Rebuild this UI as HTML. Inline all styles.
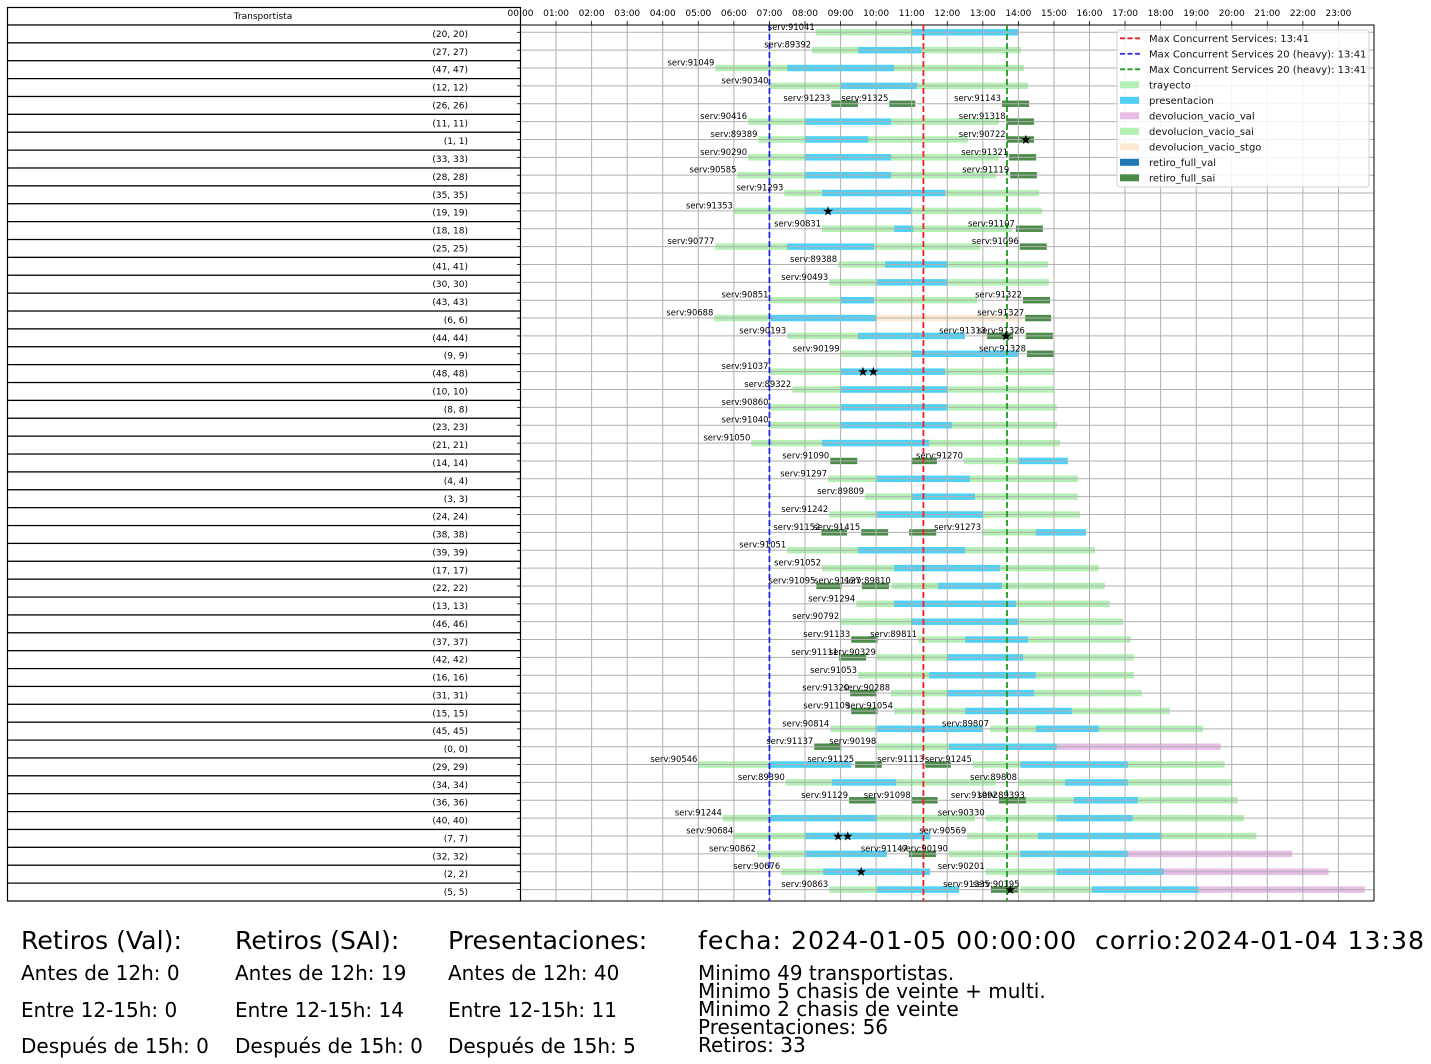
<!DOCTYPE html>
<html><head><meta charset="utf-8"><style>
html,body{margin:0;padding:0;background:#fff;width:1431px;height:1064px;overflow:hidden}
svg{display:block;font-family:"DejaVu Sans","Liberation Sans",sans-serif}
</style></head><body>
<svg id="chart" width="1431" height="1064" viewBox="0 0 1431 1064" xmlns="http://www.w3.org/2000/svg">
<g id="table"></g>
<g id="bars"></g>
<g id="grid"></g>
<g id="marks"></g>
<g id="legend"></g>
<g font-family="DejaVu Sans, Liberation Sans, sans-serif" fill="#000">
<text x="21" y="949" font-size="25.2">Retiros (Val):</text>
<text x="21" y="980" font-size="20">Antes de 12h: 0</text>
<text x="21" y="1017" font-size="20">Entre 12-15h: 0</text>
<text x="21" y="1053" font-size="20">Después de 15h: 0</text>
<text x="235" y="949" font-size="25.2">Retiros (SAI):</text>
<text x="235" y="980" font-size="20">Antes de 12h: 19</text>
<text x="235" y="1017" font-size="20">Entre 12-15h: 14</text>
<text x="235" y="1053" font-size="20">Después de 15h: 0</text>
<text x="448" y="949" font-size="25.2">Presentaciones:</text>
<text x="448" y="980" font-size="20">Antes de 12h: 40</text>
<text x="448" y="1017" font-size="20">Entre 12-15h: 11</text>
<text x="448" y="1053" font-size="20">Después de 15h: 5</text>
<text x="698" y="949" font-size="25.2" textLength="726" lengthAdjust="spacing" xml:space="preserve">fecha: 2024-01-05 00:00:00  corrio:2024-01-04 13:38</text>
<text x="698" y="980" font-size="20">Minimo 49 transportistas.</text>
<text x="698" y="998" font-size="20">Minimo 5 chasis de veinte + multi.</text>
<text x="698" y="1016" font-size="20">Minimo 2 chasis de veinte</text>
<text x="698" y="1034" font-size="20">Presentaciones: 56</text>
<text x="698" y="1052" font-size="20">Retiros: 33</text>
</g>
</svg>
<script>
const rowLabels=["(20, 20)","(27, 27)","(47, 47)","(12, 12)","(26, 26)","(11, 11)","(1, 1)","(33, 33)","(28, 28)","(35, 35)","(19, 19)","(18, 18)","(25, 25)","(41, 41)","(30, 30)","(43, 43)","(6, 6)","(44, 44)","(9, 9)","(48, 48)","(10, 10)","(8, 8)","(23, 23)","(21, 21)","(14, 14)","(4, 4)","(3, 3)","(24, 24)","(38, 38)","(39, 39)","(17, 17)","(22, 22)","(13, 13)","(46, 46)","(37, 37)","(42, 42)","(16, 16)","(31, 31)","(15, 15)","(45, 45)","(0, 0)","(29, 29)","(34, 34)","(36, 36)","(40, 40)","(7, 7)","(32, 32)","(2, 2)","(5, 5)"];
const hourTicks=["00:00","01:00","02:00","03:00","04:00","05:00","06:00","07:00","08:00","09:00","10:00","11:00","12:00","13:00","14:00","15:00","16:00","17:00","18:00","19:00","20:00","21:00","22:00","23:00"];
// [row, startHour, endHour]
const trayecto=[[0,8.3,14.0],[1,8.2,14.07],[2,5.48,14.16],[3,7.0,14.27],[5,6.4,13.45],[6,6.69,12.58],[7,6.4,13.45],[8,6.1,13.37],[9,7.42,14.58],[10,6.0,14.66],[11,8.48,13.82],[12,5.48,12.92],[13,8.93,14.83],[14,8.68,14.86],[15,7.0,12.84],[16,5.45,7.0],[17,7.5,12.5],[18,9.0,11.0],[19,7.0,15.0],[20,7.64,15.0],[21,7.0,15.08],[22,7.0,15.08],[23,6.49,15.17],[24,12.47,15.39],[25,8.65,15.67],[26,9.69,15.67],[27,8.68,15.73],[28,12.98,15.9],[29,7.5,16.15],[30,8.48,16.26],[31,10.44,16.43],[32,9.44,16.57],[33,8.99,16.94],[34,11.18,17.16],[35,10.02,17.25],[36,9.49,17.25],[37,10.42,17.47],[38,10.5,18.26],[39,8.71,13.0],[39,13.2,19.19],[40,10.03,15.08],[41,5.0,9.3],[41,12.72,19.8],[42,7.46,13.37],[42,13.99,20.0],[43,14.21,20.17],[44,5.69,12.78],[44,13.08,20.34],[45,6.01,11.52],[45,12.56,20.69],[46,6.65,10.3],[46,12.05,17.08],[47,7.33,11.52],[47,13.08,18.09],[48,8.68,12.33],[48,14.06,19.07]];
const presentacion=[[0,11.0,14.0],[1,9.5,11.27],[2,7.5,10.5],[3,9.0,11.15],[5,8.0,10.42],[6,8.0,9.78],[7,8.0,10.42],[8,8.0,10.42],[9,8.48,11.94],[10,8.0,10.98],[11,10.51,11.04],[12,7.5,9.94],[13,10.25,12.0],[14,10.03,12.0],[15,9.0,9.94],[16,7.0,10.0],[17,9.49,12.5],[18,11.0,14.0],[19,9.0,11.94],[20,9.0,12.0],[21,9.0,12.0],[22,9.0,12.13],[23,8.48,11.49],[24,14.02,15.39],[25,10.03,12.64],[26,11.0,12.78],[27,10.03,13.0],[28,14.49,15.9],[29,9.49,12.5],[30,10.51,13.48],[31,11.74,13.54],[32,10.5,13.93],[33,10.98,13.99],[34,12.5,14.27],[35,12.0,14.13],[36,11.49,14.49],[37,12.0,14.44],[38,12.5,15.5],[39,10.02,13.0],[39,14.49,16.26],[40,12.05,15.08],[41,7.01,9.3],[41,14.06,17.08],[42,8.76,10.56],[42,15.31,17.08],[43,15.56,17.36],[44,7.01,10.03],[44,15.08,17.21],[45,8.02,11.52],[45,14.55,18.03],[46,8.02,10.3],[46,14.06,17.08],[47,8.51,11.52],[47,15.08,18.09],[48,10.03,12.33],[48,16.07,19.07]];
const retiroFullSai=[[4,8.74,9.49],[4,10.37,11.1],[4,13.54,14.3],[5,13.67,14.44],[6,13.67,14.44],[7,13.74,14.5],[8,13.77,14.52],[11,13.93,14.69],[12,14.04,14.8],[15,14.13,14.89],[16,14.19,14.92],[17,13.12,13.85],[17,14.21,14.97],[18,14.24,15.0],[24,8.71,9.47],[24,11.0,11.71],[28,8.46,9.18],[28,9.58,10.34],[28,10.93,11.69],[31,8.32,9.03],[31,9.6,10.36],[34,9.3,10.04],[35,8.96,9.72],[37,9.27,10.02],[38,9.3,10.04],[40,8.26,9.02],[41,9.41,10.16],[41,11.38,12.1],[43,9.24,10.0],[43,11.0,11.73],[43,13.45,14.21],[46,10.92,11.68],[48,13.23,13.99]];
const devolucionVacioVal=[[40,15.08,19.69],[46,17.08,21.7],[47,18.09,22.72],[48,19.07,23.74]];
const devolucionVacioStgo=[[16,10.0,14.07]];
// [row, text, hour]
const servLabels=[[0,"serv:91041",8.3],[1,"serv:89392",8.2],[2,"serv:91049",5.48],[3,"serv:90340",7.0],[4,"serv:91233",8.74],[4,"serv:91325",10.37],[4,"serv:91143",13.54],[5,"serv:90416",6.4],[5,"serv:91318",13.67],[6,"serv:89389",6.69],[6,"serv:90722",13.67],[7,"serv:90290",6.4],[7,"serv:91321",13.74],[8,"serv:90585",6.1],[8,"serv:91119",13.77],[9,"serv:91293",7.42],[10,"serv:91353",6.0],[11,"serv:90831",8.48],[11,"serv:91107",13.93],[12,"serv:90777",5.48],[12,"serv:91096",14.04],[13,"serv:89388",8.93],[14,"serv:90493",8.68],[15,"serv:90851",7.0],[15,"serv:91322",14.13],[16,"serv:90688",5.45],[16,"serv:91327",14.19],[17,"serv:90193",7.5],[17,"serv:91313",13.12],[17,"serv:91326",14.21],[18,"serv:90199",9.0],[18,"serv:91328",14.24],[19,"serv:91037",7.0],[20,"serv:89322",7.64],[21,"serv:90860",7.0],[22,"serv:91040",7.0],[23,"serv:91050",6.49],[24,"serv:91090",8.71],[24,"serv:91270",12.47],[25,"serv:91297",8.65],[26,"serv:89809",9.69],[27,"serv:91242",8.68],[28,"serv:91152",8.46],[28,"serv:91415",9.58],[28,"serv:91273",12.98],[29,"serv:91051",7.5],[30,"serv:91052",8.48],[31,"serv:91095",8.32],[31,"serv:91127",9.6],[31,"serv:89810",10.44],[32,"serv:91294",9.44],[33,"serv:90792",8.99],[34,"serv:91133",9.3],[34,"serv:89811",11.18],[35,"serv:91111",8.96],[35,"serv:90329",10.02],[36,"serv:91053",9.49],[37,"serv:91320",9.27],[37,"serv:90288",10.42],[38,"serv:91109",9.3],[38,"serv:91054",10.5],[39,"serv:90814",8.71],[39,"serv:89807",13.2],[40,"serv:91137",8.26],[40,"serv:90198",10.03],[41,"serv:90546",5.0],[41,"serv:91125",9.41],[41,"serv:91113",11.38],[41,"serv:91245",12.72],[42,"serv:89390",7.46],[42,"serv:89808",13.99],[43,"serv:91129",9.24],[43,"serv:91098",11.0],[43,"serv:91092",13.45],[43,"serv:89393",14.21],[44,"serv:91244",5.69],[44,"serv:90330",13.08],[45,"serv:90684",6.01],[45,"serv:90569",12.56],[46,"serv:90862",6.65],[46,"serv:91147",10.92],[46,"serv:90190",12.05],[47,"serv:90676",7.33],[47,"serv:90201",13.08],[48,"serv:90863",8.68],[48,"serv:91335",13.23],[48,"serv:90195",14.06]];
const stars=[[6,14.21],[10,8.65],[17,13.65],[19,9.63],[19,9.92],[45,8.93],[45,9.2],[47,9.58],[48,13.77]];
const vLineHours=[7.0,11.33,13.68];
const legendLabels=["Max Concurrent Services: 13:41","Max Concurrent Services 20 (heavy): 13:41","Max Concurrent Services 20 (heavy): 13:41","trayecto","presentacion","devolucion_vacio_val","devolucion_vacio_sai","devolucion_vacio_stgo","retiro_full_val","retiro_full_sai"];

const NS="http://www.w3.org/2000/svg";
const PL=520.5,PR=1374,PT=25,PB=901;
const xs=h=>PL+h*(PR-PL)/24;
const ys=i=>32.3+i*17.86;
const COL={tray:"#b3f0b3",pres:"#4fd0f7",sai:"#4b8c4b",val:"#e5bde5",stgo:"#fdebd5",fval:"#1f77b4"};
function mk(tag,attrs,parent){const e=document.createElementNS(NS,tag);for(const k in attrs)e.setAttribute(k,attrs[k]);parent.appendChild(e);return e;}

const tbl=document.getElementById('table');
const TR0=25,TRH=(901-25)/49;
let r=mk('rect',{x:7.5,y:7.5,width:513,height:17.5,fill:'#fff',stroke:'#000','stroke-width':1.2},tbl);


let t=mk('text',{x:263,y:19,'font-size':9,'text-anchor':'middle'},tbl);t.textContent='Transportista';


rowLabels.forEach((lab,i)=>{
  const c=mk('rect',{x:7.5,y:TR0+i*TRH,width:513,height:TRH,fill:'#fff',stroke:'#000','stroke-width':1.2},tbl);
  
  
  const tx=mk('text',{x:468,y:TR0+i*TRH+TRH/2+3,'font-size':9,'text-anchor':'end'},tbl);tx.textContent=lab;
  
  
});

const bars=document.getElementById('bars');
function drawSet(arr,color,name){arr.forEach(([row,s,e])=>{
  const b=mk('rect',{x:xs(s),y:ys(row)-3.2,width:xs(e)-xs(s),height:6.4,fill:color},bars);
  
  
});}
drawSet(trayecto,COL.tray,'trayecto-bar');
drawSet(devolucionVacioStgo,COL.stgo,'devolucion-vacio-stgo-bar');
drawSet(devolucionVacioVal,COL.val,'devolucion-vacio-val-bar');
drawSet(presentacion,COL.pres,'presentacion-bar');
drawSet(retiroFullSai,COL.sai,'retiro-full-sai-bar');

const grid=document.getElementById('grid');
hourTicks.forEach((lab,i)=>{
  const x=xs(i);
  if(i>0){const g=mk('line',{x1:x,x2:x,y1:PT,y2:PB,stroke:'#b0b0b0','stroke-width':1},grid);
  
  }
  const tk=mk('line',{x1:x,x2:x,y1:PT,y2:PT-4,stroke:'#000','stroke-width':0.8},grid);
  
  
  const tl=mk('text',{x:x,y:16,'font-size':9,'text-anchor':'middle'},grid);tl.textContent=lab;
  
  
});
rowLabels.forEach((lab,i)=>{
  const y=ys(i);
  const g=mk('line',{x1:PL,x2:PR,y1:y,y2:y,stroke:'#b0b0b0','stroke-width':1},grid);
  
  
  const tk=mk('line',{x1:PL,x2:PL-3.5,y1:y,y2:y,stroke:'#000','stroke-width':0.8},grid);
  
  
});
const frame=mk('rect',{x:PL,y:PT,width:PR-PL,height:PB-PT,fill:'none',stroke:'#000','stroke-width':1},grid);



const marks=document.getElementById('marks');
const vCols=['#2222ee','#ee2222','#229922'];
const vNames=['max-heavy-blue-line','max-concurrent-red-line','max-heavy-green-line'];
vLineHours.forEach((h,i)=>{
  const l=mk('line',{x1:xs(h),x2:xs(h),y1:PT,y2:PB,stroke:vCols[i],'stroke-width':1.8,'stroke-dasharray':'6,3'},marks);
  
  
});
servLabels.forEach(([row,txt,h])=>{
  const tx=mk('text',{x:xs(h)-1,y:ys(row)-2.5,'font-size':8.4,'text-anchor':'end',fill:'#000'},marks);tx.textContent=txt;
  
  
});
stars.forEach(([row,h])=>{
  const s=mk('text',{x:xs(h),y:ys(row)+4.5,'font-size':13,'text-anchor':'middle',fill:'#000'},marks);s.textContent='★';
  
  
});

const lg=document.getElementById('legend');
const box=mk('rect',{x:1117,y:30,width:252,height:157,rx:3,fill:'#fff','fill-opacity':0.85,stroke:'#d0d0d0','stroke-width':1},lg);


const legColors=[null,null,null,COL.tray,COL.pres,COL.val,COL.tray,COL.stgo,COL.fval,COL.sai];
legendLabels.forEach((lab,i)=>{
  const y=38.3+i*15.5;
  if(i<3){const l=mk('line',{x1:1120,x2:1140,y1:y,y2:y,stroke:['#ee2222','#3333ee','#229922'][i],'stroke-width':1.8,'stroke-dasharray':'5,2.5'},lg);
    
    }
  else{const p=mk('rect',{x:1120,y:y-3.5,width:19,height:7,fill:legColors[i]},lg);
    
    }
  const tx=mk('text',{x:1149,y:y+3.5,'font-size':10,fill:'#111'},lg);tx.textContent=lab;
  
  
});
</script>
</body></html>
